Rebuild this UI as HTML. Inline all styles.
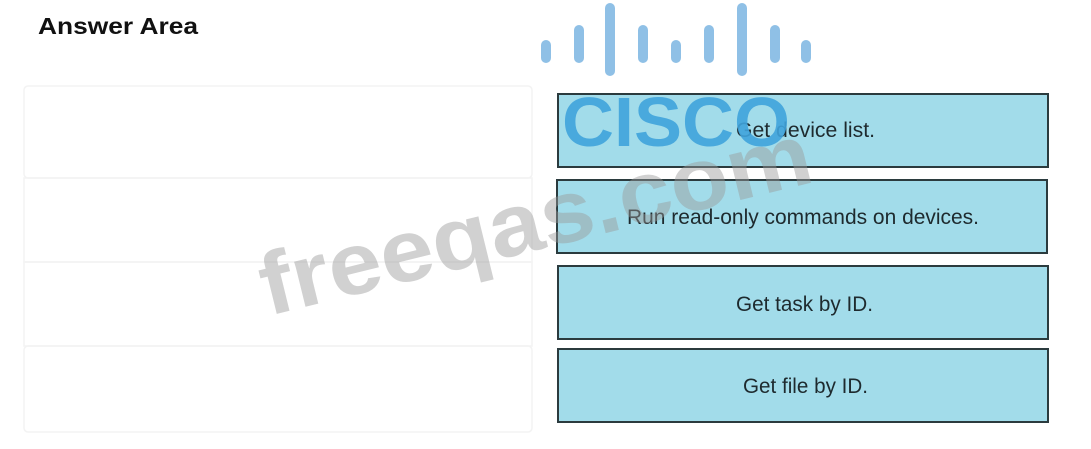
<!DOCTYPE html>
<html><head><meta charset="utf-8"><style>
html,body{margin:0;padding:0;background:#fff;width:1091px;height:449px;overflow:hidden}
svg text{font-family:"Liberation Sans",Arial,sans-serif}
</style></head><body>
<svg width="1091" height="449" xmlns="http://www.w3.org/2000/svg">
<rect width="1091" height="449" fill="#fff"/>
<text x="38" y="34" font-size="23" font-weight="bold" fill="#111" textLength="160" lengthAdjust="spacingAndGlyphs">Answer Area</text>
<g fill="none" stroke="#f3f3f3" stroke-width="1.5">
<rect x="24" y="86" width="508" height="92" rx="4"/>
<rect x="24" y="178" width="508" height="84"/>
<rect x="24" y="262" width="508" height="84"/>
<rect x="24" y="346" width="508" height="86" rx="4"/>
</g>
<g fill="#a2dcea" stroke="#2b3b3e" stroke-width="2">
<rect x="558" y="94" width="490" height="73"/>
<rect x="557" y="180" width="490" height="73"/>
<rect x="558" y="266" width="490" height="73"/>
<rect x="558" y="349" width="490" height="73"/>
</g>
<g fill="#1e2a2e" font-size="21">
<text x="736" y="137" textLength="139" lengthAdjust="spacingAndGlyphs">Get device list.</text>
<text x="627" y="224" textLength="352" lengthAdjust="spacingAndGlyphs">Run read-only commands on devices.</text>
<text x="736" y="311" textLength="137" lengthAdjust="spacingAndGlyphs">Get task by ID.</text>
<text x="743" y="393" textLength="125" lengthAdjust="spacingAndGlyphs">Get file by ID.</text>
</g>
<g fill="#8fc0e6">
<rect x="541" y="40" width="10" height="23" rx="5"/>
<rect x="574" y="25" width="10" height="38" rx="5"/>
<rect x="605" y="3" width="10" height="73" rx="5"/>
<rect x="638" y="25" width="10" height="38" rx="5"/>
<rect x="671" y="40" width="10" height="23" rx="5"/>
<rect x="704" y="25" width="10" height="38" rx="5"/>
<rect x="737" y="3" width="10" height="73" rx="5"/>
<rect x="770" y="25" width="10" height="38" rx="5"/>
<rect x="801" y="40" width="10" height="23" rx="5"/>
</g>
<text x="562" y="146" font-size="70" font-weight="bold" fill="#3fa3dc" fill-opacity="0.9" textLength="228" lengthAdjust="spacingAndGlyphs">CISCO</text>
<text x="0" y="0" font-size="88" font-weight="bold" fill="#999" fill-opacity="0.45" transform="translate(268,316) rotate(-13.8)" textLength="565" lengthAdjust="spacingAndGlyphs">freeqas.com</text>
</svg>
</body></html>
